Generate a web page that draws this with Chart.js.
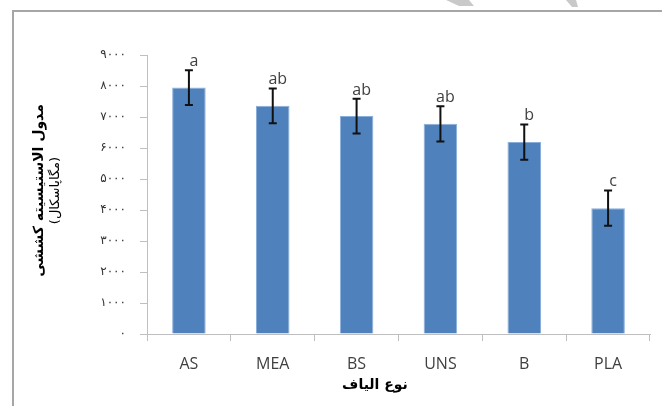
<!DOCTYPE html>
<html>
<head>
<meta charset="utf-8">
<script src="https://cdn.jsdelivr.net/npm/chart.js@4/dist/chart.umd.min.js"></script>
<style>
  html, body { margin: 0; padding: 0; background: #ffffff; }
  #wrap { width: 662px; height: 406px; }
</style>
</head>
<body>
<div id="wrap"><canvas id="c" width="662" height="406"></canvas></div>
<script>
// Fibre types on the category axis
const categories = ['AS', 'MEA', 'BS', 'UNS', 'B', 'PLA'];
// Mean tensile modulus (MPa) and standard deviation per fibre type
const modulusValues = [7950, 7360, 7030, 6780, 6190, 4060];
const modulusErrors = [560, 560, 560, 570, 570, 570];
// Significance group letters printed above each bar
const groupLetters = ['a', 'ab', 'ab', 'ab', 'b', 'c'];
// Value-axis tick labels in Persian digits (0 .. 9000, step 1000)
const yTickLabels = ['۰', '۱۰۰۰', '۲۰۰۰', '۳۰۰۰', '۴۰۰۰', '۵۰۰۰', '۶۰۰۰', '۷۰۰۰', '۸۰۰۰', '۹۰۰۰'];
// Axis titles
const yTitleMain = 'مدول الاستیسیته کششی';
const yTitleUnit = '(مگاپاسکال)';
const xTitle = 'نوع الیاف';

const AXIS_GREY = '#bfbfbf';
const PERSIAN_FONT = '"DejaVu Sans", sans-serif';

// Outer frame plus the grey strokes peeking in at the top edge
const framePlugin = {
  id: 'frame',
  beforeDraw(chart) {
    const ctx = chart.ctx;
    ctx.save();
    ctx.fillStyle = '#c9c9c9';
    ctx.beginPath();
    ctx.moveTo(446, 0); ctx.lineTo(469, 0); ctx.lineTo(474, 6); ctx.lineTo(459, 6);
    ctx.closePath(); ctx.fill();
    ctx.beginPath();
    ctx.moveTo(566, 0); ctx.lineTo(576, 0); ctx.lineTo(578, 7); ctx.lineTo(572, 7);
    ctx.closePath(); ctx.fill();
    ctx.strokeStyle = '#a6a6a6';
    ctx.lineWidth = 2;
    ctx.beginPath();
    ctx.moveTo(13, 406);
    ctx.lineTo(13, 11);
    ctx.lineTo(662, 11);
    ctx.stroke();
    ctx.restore();
  }
};

// Error bars and group letters, positioned through the chart scales
const errorBarPlugin = {
  id: 'errorBars',
  afterDatasetsDraw(chart) {
    const ctx = chart.ctx;
    const xs = chart.scales.x, ys = chart.scales.y;
    ctx.save();
    ctx.strokeStyle = '#111111';
    ctx.lineWidth = 2;
    modulusValues.forEach((v, i) => {
      const x = xs.getPixelForValue(i);
      const yHi = ys.getPixelForValue(v + modulusErrors[i]);
      const yLo = ys.getPixelForValue(v - modulusErrors[i]);
      ctx.beginPath();
      ctx.moveTo(x, yHi); ctx.lineTo(x, yLo);
      ctx.moveTo(x - 4, yHi); ctx.lineTo(x + 4, yHi);
      ctx.moveTo(x - 4, yLo); ctx.lineTo(x + 4, yLo);
      ctx.stroke();
      ctx.fillStyle = '#404040';
      ctx.font = '16px "Open Sans", sans-serif';
      ctx.textAlign = 'center';
      ctx.textBaseline = 'alphabetic';
      ctx.fillText(groupLetters[i], x + 5, yHi - 4);
    });
    ctx.restore();
  }
};

// Persian axis titles
const titlePlugin = {
  id: 'persianTitles',
  afterDraw(chart) {
    const ctx = chart.ctx;
    const area = chart.chartArea;
    const midY = (area.top + area.bottom) / 2 - 4;
    ctx.save();
    ctx.direction = 'rtl';
    ctx.fillStyle = '#000000';
    ctx.textAlign = 'center';
    ctx.textBaseline = 'middle';
    ctx.translate(39, midY);
    ctx.rotate(-Math.PI / 2);
    ctx.font = 'bold 14px ' + PERSIAN_FONT;
    ctx.fillText(yTitleMain, 0, 0);
    ctx.font = '13px ' + PERSIAN_FONT;
    ctx.fillText(yTitleUnit, 0, 17);
    ctx.restore();

    ctx.save();
    ctx.direction = 'rtl';
    ctx.fillStyle = '#000000';
    ctx.textAlign = 'center';
    ctx.textBaseline = 'middle';
    ctx.font = 'bold 14px ' + PERSIAN_FONT;
    ctx.fillText(xTitle, 375, 385);
    ctx.restore();
  }
};

new Chart(document.getElementById('c'), {
  type: 'bar',
  data: {
    labels: categories,
    datasets: [{
      data: modulusValues,
      backgroundColor: '#4f81bd',
      borderColor: '#8aaedb',
      borderWidth: 1,
      categoryPercentage: 1.0,
      barPercentage: 0.4
    }]
  },
  options: {
    responsive: false,
    animation: false,
    devicePixelRatio: 1,
    layout: { padding: { top: 55, right: 12, bottom: 0, left: 0 } },
    plugins: {
      legend: { display: false },
      tooltip: { enabled: false }
    },
    scales: {
      x: {
        afterFit(scale) { scale.height = 72; },
        grid: {
          offset: true,
          drawOnChartArea: false,
          drawTicks: true,
          tickLength: 7,
          color: AXIS_GREY
        },
        border: { display: true, color: AXIS_GREY, width: 1 },
        ticks: {
          padding: 14,
          color: '#404040',
          font: { family: '"Open Sans", sans-serif', size: 16 }
        }
      },
      y: {
        min: 0,
        max: 9000,
        afterFit(scale) { scale.width = 147; },
        grid: {
          drawOnChartArea: false,
          drawTicks: true,
          tickLength: 7,
          color: AXIS_GREY
        },
        border: { display: true, color: AXIS_GREY, width: 1 },
        ticks: {
          stepSize: 1000,
          padding: 14,
          color: '#333333',
          font: { family: PERSIAN_FONT, size: 12 },
          callback(value) { return yTickLabels[Math.round(value / 1000)]; }
        }
      }
    }
  },
  plugins: [framePlugin, errorBarPlugin, titlePlugin]
});
</script>
</body>
</html>
